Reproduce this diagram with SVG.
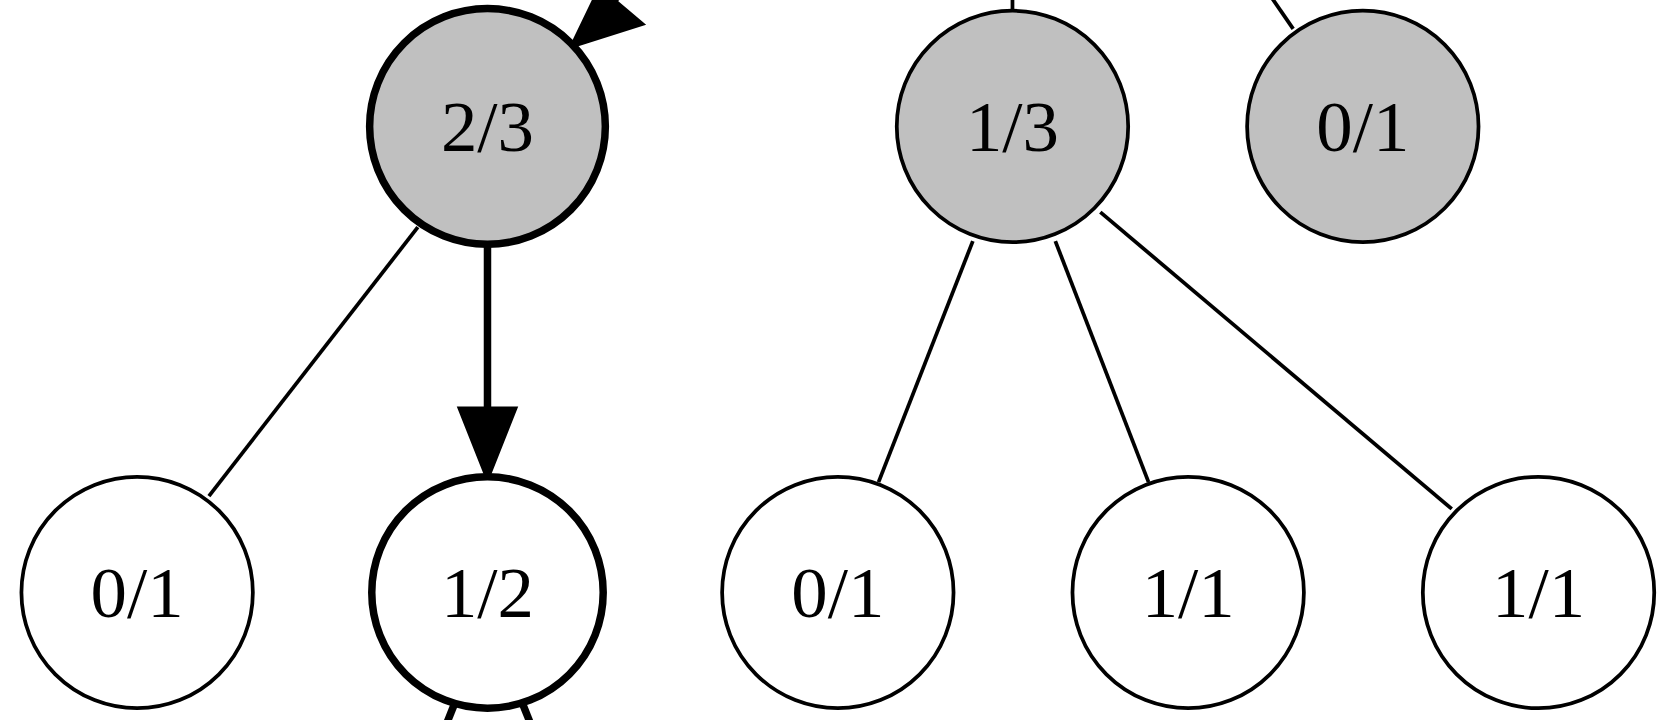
<svg xmlns="http://www.w3.org/2000/svg" width="1680" height="720" viewBox="0 0 1680 720">
<style>
.n{stroke:#000;stroke-width:3.5;fill:#fff}
.g{fill:#c0c0c0}
.b{stroke-width:7}
.e{stroke:#000;stroke-width:3.5;fill:none}
.eb{stroke:#000;stroke-width:7;fill:none}
text{font-family:"Liberation Serif",serif;font-size:68px;text-anchor:middle;dominant-baseline:central}
</style>
<rect width="1680" height="720" fill="#fff"/>
<g transform="scale(1.0714)">
<g id="connectors">
<line class="e" x1="390" y1="212" x2="195" y2="463"/>
<line class="eb" x1="455" y1="230" x2="455" y2="385"/>
<polygon points="430,382 480,382 455,445" stroke="#000" stroke-width="5"/>
<line class="e" x1="908" y1="225" x2="820" y2="450"/>
<line class="e" x1="985" y1="225" x2="1072" y2="450"/>
<line class="e" x1="1027" y1="198" x2="1355" y2="475"/>
<line class="e" x1="945" y1="-5" x2="945" y2="10"/>
<line class="e" x1="1185" y1="-5" x2="1207" y2="27"/>
<line class="eb" x1="590" y1="-20" x2="565" y2="10"/>
<polygon points="535,42 560,-10 598,22" stroke="#000" stroke-width="5"/>
<line class="eb" x1="425" y1="655" x2="415" y2="680"/>
<line class="eb" x1="487" y1="655" x2="497" y2="680"/>
</g>
<g id="n23"><circle class="n g b" cx="455" cy="118" r="110"/><text x="455" y="118">2/3</text></g>
<g id="n13"><circle class="n g" cx="945" cy="118" r="108"/><text x="945" y="118">1/3</text></g>
<g id="n01a"><circle class="n g" cx="1272" cy="118" r="108"/><text x="1272" y="118">0/1</text></g>
<g id="n01b"><circle class="n" cx="128" cy="553" r="108"/><text x="128" y="553">0/1</text></g>
<g id="n12"><circle class="n b" cx="455" cy="553" r="108"/><text x="455" y="553">1/2</text></g>
<g id="n01c"><circle class="n" cx="782" cy="553" r="108"/><text x="782" y="553">0/1</text></g>
<g id="n11a"><circle class="n" cx="1109" cy="553" r="108"/><text x="1109" y="553">1/1</text></g>
<g id="n11b"><circle class="n" cx="1436" cy="553" r="108"/><text x="1436" y="553">1/1</text></g>
</g>
</svg>
